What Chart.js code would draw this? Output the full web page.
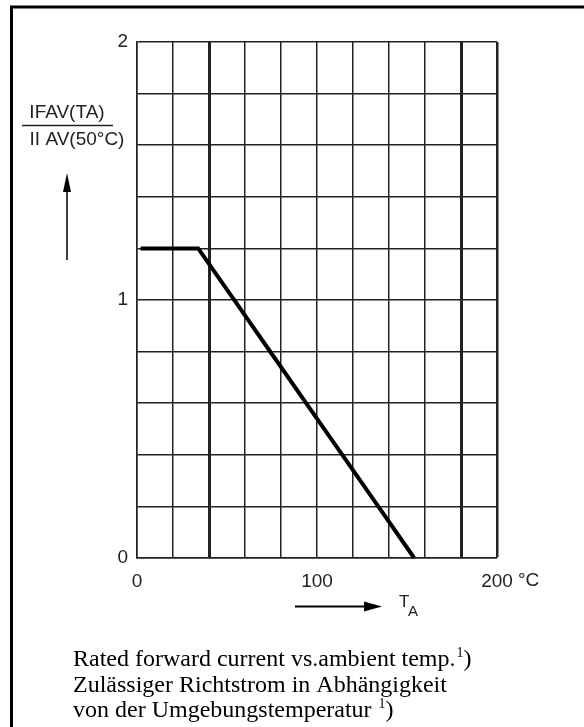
<!DOCTYPE html>
<html>
<head>
<meta charset="utf-8">
<script src="https://cdn.jsdelivr.net/npm/chart.js@4"></script>
<style>
html,body{margin:0;padding:0;background:#fff;}
#wrap{position:relative;width:584px;height:727px;}
</style>
</head>
<body>
<div id="wrap"><canvas id="c" width="584" height="727"></canvas></div>
<script>
// Data
const temperatures = [2, 34, 56, 76, 96, 116, 135, 154];          // T_A in °C
const currentRatio = [1.2, 1.2, 0.98, 0.78, 0.58, 0.38, 0.19, 0.0]; // IFAV(TA)/IFAV(50°C)
const xTickLabels = {0: '0', 100: '100', 200: '200'};
const yTickLabels = {0: '0', 1: '1', 2: '2'};
const thickXGrid = [40, 180];
const xLabelUnit = '°C';
const yLabelTop = 'IFAV(TA)';
const yLabelBottom = 'II AV(50°C)';
const xAxisName = 'T';
const xAxisSub = 'A';
const captionLines = [
  ['Rated forward current vs.ambient temp.', '1', ')'],
  ['Zulässiger Richtstrom in Abhängigkeit', '', ''],
  ['von der Umgebungstemperatur ', '1', ')']
];

const SANS = '"Liberation Sans", Arial, sans-serif';
const SERIF = '"Liberation Serif", "Times New Roman", serif';

const decor = {
  id: 'decor',
  afterDraw(chart) {
    const ctx = chart.ctx;
    ctx.save();
    // frame
    ctx.strokeStyle = '#000';
    ctx.lineWidth = 3;
    ctx.beginPath();
    ctx.moveTo(11.5, 727);
    ctx.lineTo(11.5, 7);
    ctx.lineTo(584, 7);
    ctx.stroke();

    // y label fraction
    ctx.fillStyle = '#222';
    ctx.font = '19px ' + SANS;
    ctx.textAlign = 'center';
    ctx.textBaseline = 'middle';
    ctx.fillText(yLabelTop, 67, 113);
    ctx.fillText(yLabelBottom, 77, 140);
    ctx.lineWidth = 1.5;
    ctx.strokeStyle = '#222';
    ctx.beginPath();
    ctx.moveTo(22, 125.5);
    ctx.lineTo(113, 125.5);
    ctx.stroke();

    // up arrow
    ctx.lineWidth = 1.5;
    ctx.strokeStyle = '#000';
    ctx.beginPath();
    ctx.moveTo(67, 260);
    ctx.lineTo(67, 188);
    ctx.stroke();
    ctx.fillStyle = '#000';
    ctx.beginPath();
    ctx.moveTo(67, 173);
    ctx.lineTo(71, 192);
    ctx.lineTo(63, 192);
    ctx.closePath();
    ctx.fill();

    // right arrow
    ctx.lineWidth = 2;
    ctx.beginPath();
    ctx.moveTo(295, 606.5);
    ctx.lineTo(368, 606.5);
    ctx.stroke();
    ctx.beginPath();
    ctx.moveTo(382, 606.5);
    ctx.lineTo(364, 601.5);
    ctx.lineTo(364, 611.5);
    ctx.closePath();
    ctx.fill();

    // T_A
    ctx.fillStyle = '#222';
    ctx.textAlign = 'left';
    ctx.textBaseline = 'alphabetic';
    ctx.font = '17px ' + SANS;
    ctx.fillText(xAxisName, 399, 607);
    ctx.font = '15px ' + SANS;
    ctx.fillText(xAxisSub, 408, 616);

    // unit after 200
    ctx.font = '19px ' + SANS;
    ctx.textBaseline = 'middle';
    ctx.fillText(xLabelUnit, 518, 581);

    // caption
    ctx.fillStyle = '#000';
    ctx.textBaseline = 'alphabetic';
    const baselines = [666, 692, 717];
    captionLines.forEach((ln, i) => {
      let x = 73;
      ctx.font = '24px ' + SERIF;
      ctx.fillText(ln[0], x, baselines[i]);
      x += ctx.measureText(ln[0]).width;
      if (ln[1]) {
        ctx.font = '14px ' + SERIF;
        ctx.fillText(ln[1], x + 1, baselines[i] - 9);
        x += ctx.measureText(ln[1]).width + 1;
      }
      if (ln[2]) {
        ctx.font = '24px ' + SERIF;
        ctx.fillText(ln[2], x, baselines[i]);
      }
    });
    ctx.restore();
  }
};

new Chart(document.getElementById('c'), {
  type: 'scatter',
  data: {
    datasets: [{
      data: temperatures.map((t, i) => ({x: t, y: currentRatio[i]})),
      showLine: true,
      borderColor: '#000',
      borderWidth: 4,
      pointRadius: 0,
      tension: 0,
      clip: false
    }]
  },
  options: {
    responsive: false,
    animation: false,
    devicePixelRatio: 1,
    layout: {padding: {left: 0, top: 42, right: 87, bottom: 0}},
    plugins: {legend: {display: false}, tooltip: {enabled: false}},
    scales: {
      x: {
        type: 'linear',
        min: 0, max: 200,
        afterFit(s) { s.height = 727 - 42 - 516; },
        border: {display: true, color: '#222', width: 1.5},
        grid: {
          drawTicks: false,
          color: '#222',
          lineWidth: (c) => thickXGrid.includes(c.tick && c.tick.value) ? 3 : (c.tick && c.tick.value === 200 ? 2.5 : 1.5)
        },
        ticks: {
          stepSize: 20,
          autoSkip: false,
          maxRotation: 0,
          padding: 12,
          color: '#222',
          font: {family: SANS, size: 19},
          callback: (v) => (v in xTickLabels ? xTickLabels[v] : '')
        }
      },
      y: {
        type: 'linear',
        min: 0, max: 2,
        afterFit(s) { s.width = 137; },
        border: {display: true, color: '#222', width: 1.5},
        grid: {drawTicks: false, color: '#222', lineWidth: 1.5},
        ticks: {
          stepSize: 0.2,
          autoSkip: false,
          padding: 9,
          color: '#222',
          font: {family: SANS, size: 19},
          callback: (v) => {
            const r = Math.round(v * 10) / 10;
            return (r in yTickLabels) ? yTickLabels[r] : '';
          }
        }
      }
    }
  },
  plugins: [decor]
});
</script>
</body>
</html>
